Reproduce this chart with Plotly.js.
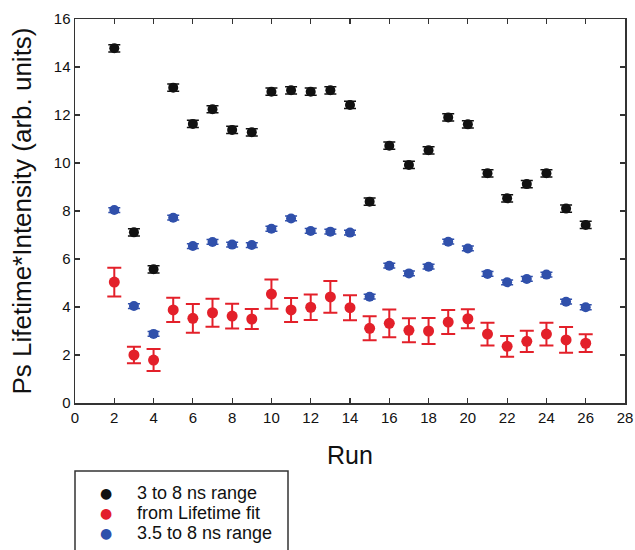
<!DOCTYPE html>
<html>
<head>
<meta charset="utf-8">
<script src="https://cdn.plot.ly/plotly-3.0.1.min.js"></script>
<style>
  html, body { margin: 0; padding: 0; background: #fff; }
  #chart { width: 635px; height: 550px; }
</style>
</head>
<body>
<div id="chart"></div>
<script>
// Run numbers shared by all three series
const runs = [2, 3, 4, 5, 6, 7, 8, 9, 10, 11, 12, 13, 14, 15, 16, 17, 18, 19, 20, 21, 22, 23, 24, 25, 26];

// Ps lifetime * intensity, 3 to 8 ns integration range
const range3to8 = [14.78, 7.11, 5.57, 13.14, 11.63, 12.24, 11.38, 11.28, 12.97, 13.03, 12.97, 13.03, 12.42,
                   8.39, 10.72, 9.92, 10.53, 11.90, 11.61, 9.57, 8.53, 9.12, 9.57, 8.10, 7.42];
const range3to8Err = [0.15, 0.15, 0.15, 0.15, 0.15, 0.15, 0.15, 0.15, 0.15, 0.15, 0.15, 0.15, 0.15,
                      0.15, 0.15, 0.15, 0.15, 0.15, 0.15, 0.15, 0.15, 0.15, 0.15, 0.15, 0.15];

// Ps lifetime * intensity from the lifetime fit
const lifetimeFit = [5.04, 2.00, 1.79, 3.88, 3.53, 3.76, 3.62, 3.50, 4.54, 3.88, 3.99, 4.42, 3.97,
                     3.11, 3.32, 3.03, 3.00, 3.37, 3.51, 2.87, 2.36, 2.57, 2.87, 2.63, 2.49];
const lifetimeFitErr = [0.60, 0.34, 0.46, 0.51, 0.60, 0.58, 0.52, 0.42, 0.61, 0.50, 0.53, 0.66, 0.52,
                        0.50, 0.58, 0.50, 0.54, 0.50, 0.40, 0.47, 0.43, 0.44, 0.47, 0.54, 0.37];

// Ps lifetime * intensity, 3.5 to 8 ns integration range
const range35to8 = [8.04, 4.04, 2.88, 7.72, 6.54, 6.71, 6.60, 6.58, 7.26, 7.69, 7.17, 7.14, 7.10,
                    4.43, 5.72, 5.40, 5.68, 6.72, 6.44, 5.38, 5.03, 5.17, 5.35, 4.22, 3.99];
const range35to8Err = [0.10, 0.10, 0.10, 0.10, 0.10, 0.10, 0.10, 0.10, 0.10, 0.10, 0.10, 0.10, 0.10,
                       0.10, 0.10, 0.10, 0.10, 0.10, 0.10, 0.10, 0.10, 0.10, 0.10, 0.10, 0.10];

const seriesNames = ['3 to 8 ns range', 'from Lifetime fit', '3.5 to 8 ns range'];
const xTicks = [0, 2, 4, 6, 8, 10, 12, 14, 16, 18, 20, 22, 24, 26, 28];
const yTicks = [0, 2, 4, 6, 8, 10, 12, 14, 16];

const FONT = 'Liberation Sans, Arial, Helvetica, sans-serif';
const BLACK = '#111111';
const RED = '#e3202a';
const BLUE = '#3050ab';
const COLORS = [BLACK, RED, BLUE];

// Figure geometry (pixels) used to place the boxed key below the axes
const W = 635, H = 550;
const M = { l: 75, r: 10, t: 19, b: 147 };
const plotW = W - M.l - M.r, plotH = H - M.t - M.b;
const px = p => (p - M.l) / plotW;          // pixel x -> paper x
const py = p => (H - M.b - p) / plotH;      // pixel y -> paper y

function series(y, err, name, color, size, errWidth, errThick) {
  return {
    x: runs, y: y, name: name, type: 'scatter', mode: 'markers',
    marker: { color: color, size: size, line: { width: 0 } },
    error_y: { type: 'data', array: err, visible: true, color: color,
               thickness: errThick, width: errWidth }
  };
}

const traces = [
  series(range3to8, range3to8Err, seriesNames[0], BLACK, 10, 6, 1.5),
  series(lifetimeFit, lifetimeFitErr, seriesNames[1], RED, 11, 7, 2),
  series(range35to8, range35to8Err, seriesNames[2], BLUE, 10, 6, 1.5)
];

// Key: a framed box with a coloured dot and label per series
const keyRows = [492.7, 512.7, 533.3];
const keyAnnotations = [];
seriesNames.forEach((name, i) => {
  keyAnnotations.push({
    xref: 'paper', yref: 'paper', x: px(106), y: py(keyRows[i]),
    xanchor: 'center', yanchor: 'middle', showarrow: false,
    text: '\u25CF', font: { family: 'DejaVu Sans', size: 14, color: COLORS[i] }
  });
  keyAnnotations.push({
    xref: 'paper', yref: 'paper', x: px(135), y: py(keyRows[i]),
    xanchor: 'left', yanchor: 'middle', showarrow: false,
    text: name, font: { family: FONT, size: 18, color: '#111' }
  });
});

const axisCommon = {
  showgrid: false, zeroline: false,
  showline: true, linecolor: '#333', linewidth: 1.5, mirror: 'ticks',
  ticks: 'inside', ticklen: 5, tickwidth: 1.2, tickcolor: '#333',
  tickfont: { family: FONT, size: 15, color: '#111' }
};

const layout = {
  width: W, height: H,
  margin: M,
  paper_bgcolor: '#fff', plot_bgcolor: '#fff',
  font: { family: FONT, color: '#111' },
  showlegend: false,
  xaxis: Object.assign({}, axisCommon, {
    range: [0, 28], tickmode: 'array', tickvals: xTicks, ticktext: xTicks.map(String),
    title: { text: 'Run', font: { family: FONT, size: 25, color: '#111' }, standoff: 22 }
  }),
  yaxis: Object.assign({}, axisCommon, {
    range: [0, 16], tickmode: 'array', tickvals: yTicks, ticktext: yTicks.map(String),
    title: { text: 'Ps Lifetime*Intensity (arb. units)', font: { family: FONT, size: 26, color: '#111' }, standoff: 14 }
  }),
  annotations: keyAnnotations,
  shapes: [{
    type: 'rect', xref: 'paper', yref: 'paper',
    x0: px(75), x1: px(288), y0: py(471), y1: py(565),
    line: { color: '#333', width: 1.5 }, fillcolor: 'rgba(0,0,0,0)'
  }]
};

Plotly.newPlot('chart', traces, layout, { displayModeBar: false, staticPlot: true });
</script>
</body>
</html>
